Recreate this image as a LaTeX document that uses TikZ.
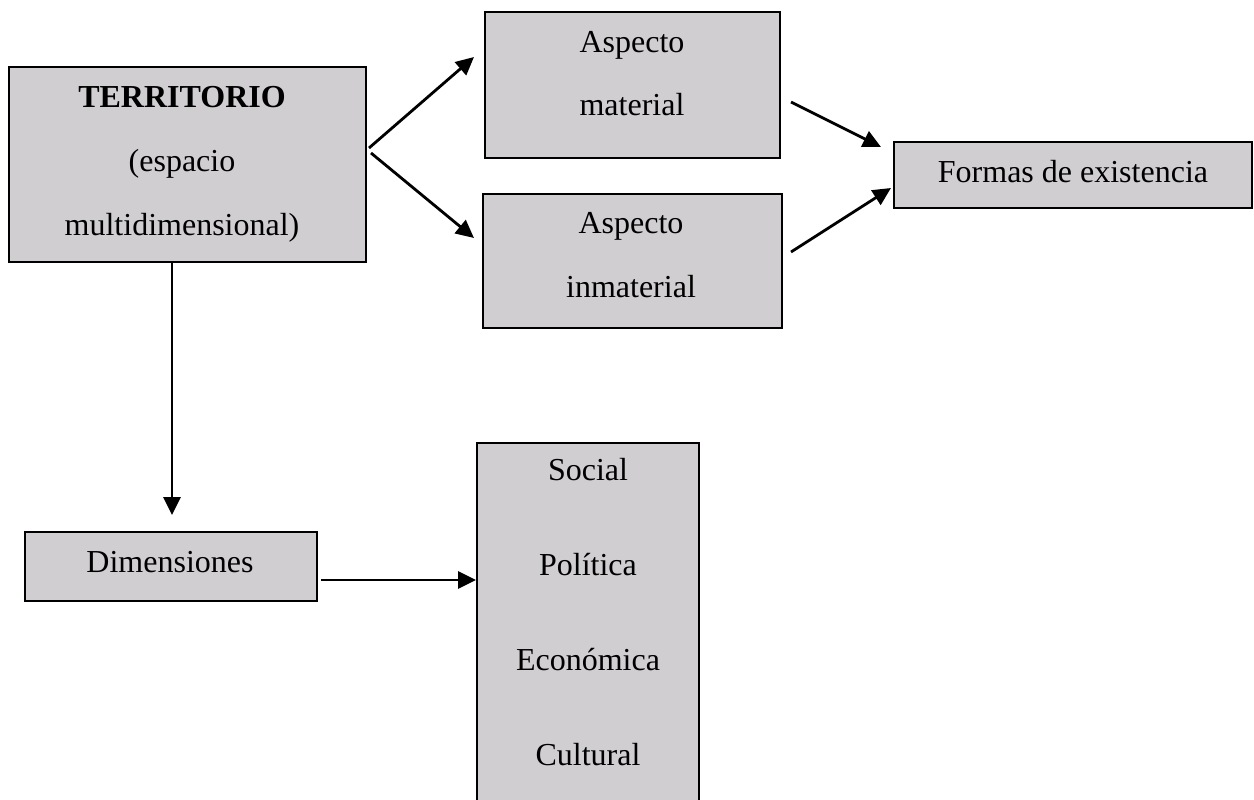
\documentclass[tikz,border=0pt]{standalone}
\usepackage{fontspec}
\setmainfont{Liberation Serif}
\usepackage{tikz}
\usetikzlibrary{positioning, calc, arrows.meta}
\definecolor{boxgray}{RGB}{208,206,209}
\tikzstyle{Arrow} = [
%Arrow between the boxes:
line width = 2.8pt,
-{Triangle[length = 18pt, width = 17pt]}
]

\begin{document}
\begin{tikzpicture}[
			x = 1pt, y = -1pt,
			box/.style = {rectangle, draw, line width = 2pt, fill = boxgray, inner sep = 0pt},
			boxtext/.style = {inner sep = 0pt, align = center, anchor = north, font = \fontsize{32}{38}\selectfont},
		]
		\path[use as bounding box, clip] (0,0) rectangle (1254,800);

		\node[box, minimum width = 357pt, minimum height = 195pt] (terr) at (187.5,164.5){};
		\node[box, minimum width = 295pt, minimum height = 146pt] (mat) at (632.5,85){};
		\node[box, minimum width = 299pt, minimum height = 134pt] (inmat) at (632.5,261){};
		\node[box, minimum width = 358pt, minimum height = 66pt] (formas) at (1073,175){};
		\node[box, minimum width = 292pt, minimum height = 69pt] (dim) at (171,566.5){};
		\node[box, minimum width = 222pt, minimum height = 400pt, anchor = north] (soc) at (588,442){};

		\node[boxtext] (terrtext) at (182,86){\textbf{TERRITORIO}\\[26pt](espacio\\[26pt]multidimensional)};
		\node[boxtext] (mattext) at (632,31){Aspecto\\[25pt]material};
		\node[boxtext] (inmattext) at (631,212){Aspecto\\[26pt]inmaterial};
		\node[boxtext] (formastext) at (1073,160){Formas de existencia};
		\node[boxtext] (dimtext) at (170,551){Dimensiones};
		\node[boxtext] (soctext) at (588,458){Social\\[57pt]Política\\[57pt]Económica\\[57pt]Cultural};

		\draw[Arrow]([shift = {(2pt,16.5pt)}]terr.east)--([shift = {(-10pt,28pt)}]mat.west);
		\draw[Arrow]([shift = {(4pt,11.5pt)}]terr.east)--([shift = {(-8pt,23pt)}]inmat.west);
		\draw[Arrow]([shift = {(10pt,-17pt)}]mat.east)--([shift = {(-12pt,28pt)}]formas.west);
		\draw[Arrow]([shift = {(8pt,9pt)}]inmat.east)--([shift = {(-2pt,-13pt)}]formas.west);
		\draw[Arrow]([xshift = -15.5pt]terr.south)--([shift = {(1pt,16pt)}]dim.north);
		\draw[Arrow]([shift = {(3pt,-13.5pt)}]dim.east)--([yshift = -138pt]soc.north west);

	\end{tikzpicture}
\end{document}
